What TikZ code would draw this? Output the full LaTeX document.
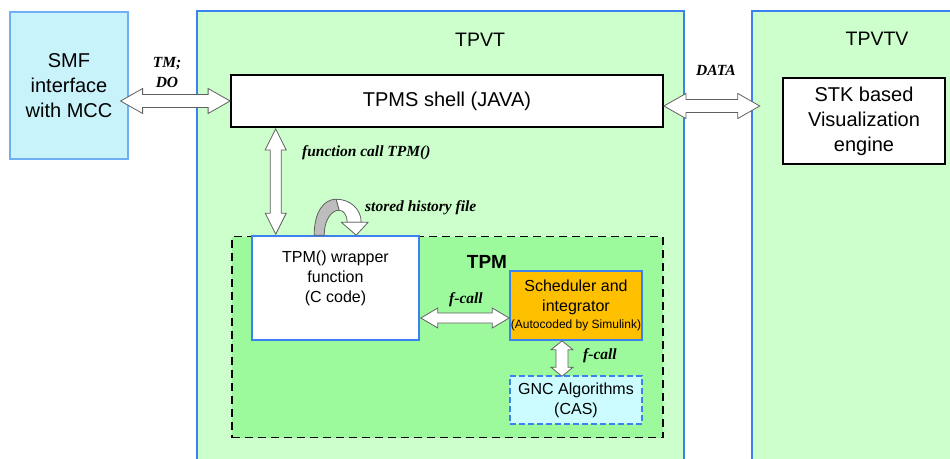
\documentclass[tikz,border=0pt]{standalone}
\usepackage{fontspec}
\setmainfont{Liberation Sans}
\newfontfamily\lblfont{Liberation Serif}
\usetikzlibrary{calc}

\definecolor{paleblue}{HTML}{C9F3FB}
\definecolor{bordblue}{HTML}{3B82F0}
\definecolor{lightblueline}{HTML}{6FB0F5}
\definecolor{lightgreen}{HTML}{CCFFCC}
\definecolor{tpmgreen}{HTML}{9CFA9C}
\definecolor{amber}{HTML}{FFC000}
\definecolor{gnccyan}{HTML}{CCFCFF}
\definecolor{arrowgray}{HTML}{606060}
\definecolor{bandgray}{HTML}{BDBDBD}

% block-arrow geometry: head length, head half-width, shaft half-width
\def\blkhl{22pt}
\def\blkhw{12.5pt}
\def\blksw{6.5pt}

% horizontal double block arrow between a left tip and a right tip
\newcommand\hdbl[2]{%
  \draw[blk] let \p1=#1, \p2=#2 in
    (\x1,\y1) -- (\x1+\blkhl,\y1+\blkhw) -- (\x1+\blkhl,\y1+\blksw)
    -- (\x2-\blkhl,\y1+\blksw) -- (\x2-\blkhl,\y1+\blkhw) -- (\x2,\y1)
    -- (\x2-\blkhl,\y1-\blkhw) -- (\x2-\blkhl,\y1-\blksw)
    -- (\x1+\blkhl,\y1-\blksw) -- (\x1+\blkhl,\y1-\blkhw) -- cycle;}

% vertical double block arrow between a top tip and a bottom tip
\newcommand\vdbl[2]{%
  \draw[blk] let \p1=#1, \p2=#2 in
    (\x1,\y1) -- (\x1+\blkhw,\y1-\blkhl) -- (\x1+\blksw,\y1-\blkhl)
    -- (\x1+\blksw,\y2+\blkhl) -- (\x1+\blkhw,\y2+\blkhl) -- (\x1,\y2)
    -- (\x1-\blkhw,\y2+\blkhl) -- (\x1-\blksw,\y2+\blkhl)
    -- (\x1-\blksw,\y1-\blkhl) -- (\x1-\blkhw,\y1-\blkhl) -- cycle;}

\tikzset{
  box/.style={rectangle, inner sep=0pt, align=center},
  lbl/.style={inner sep=0pt, align=center,
    font={\lblfont\bfseries\itshape\fontsize{15.5}{20}\selectfont}},
  blk/.style={draw=arrowgray, fill=white, line width=0.8pt, line join=miter},
  bigtxt/.style={font={\fontsize{20}{25}\selectfont}},
  midtxt/.style={font={\fontsize{16}{20}\selectfont}},
}

\begin{document}
\begin{tikzpicture}[x=1pt,y=-1pt]
\useasboundingbox (0,0) rectangle (950,458);
\fill[white] (0,0) rectangle (950,458);

% outer blocks
\node[box, fill=paleblue, draw=lightblueline, line width=1.2pt,
  minimum width=118pt, minimum height=147pt, bigtxt] (smf) at (69,85.5)
  {SMF\\interface\\with MCC};

\node[box, fill=lightgreen, minimum width=487pt, minimum height=451pt]
  (tpvt) at (440.5,236.5) {};
\draw[bordblue, line width=1.8pt]
  (tpvt.south west) |- (tpvt.north east) -- (tpvt.south east);
\node[font={\fontsize{19.5}{24}\selectfont}] (tpvttitle) at (480,40) {TPVT};

\node[box, fill=lightgreen, minimum width=205pt, minimum height=451pt]
  (tpvtv) at (854.5,236.5) {};
\draw[bordblue, line width=1.8pt]
  (tpvtv.south west) |- (tpvtv.north east);
\node[font={\fontsize{19.5}{24}\selectfont}] (tpvtvtitle) at (877,39) {TPVTV};

% TPMS shell and visualisation engine
\node[box, fill=white, draw=black, line width=1.8pt,
  minimum width=432pt, minimum height=52pt, bigtxt] (shell) at (447,101)
  {TPMS shell (JAVA)};
\node[box, fill=white, draw=black, line width=1.8pt,
  minimum width=162pt, minimum height=86pt, bigtxt] (stk) at (864,121)
  {STK based\\Visualization\\engine};

% TPM container
\node[box, fill=tpmgreen, draw=black, line width=1.8pt,
  dash pattern=on 8pt off 5pt, minimum width=431pt, minimum height=201pt]
  (tpm) at (447.5,337) {};
\node[font={\bfseries\fontsize{19}{23}\selectfont}] (tpmtitle) at (487,262) {TPM};

\node[box, fill=white, draw=bordblue, line width=1.6pt,
  minimum width=167pt, minimum height=104pt] (wrapper) at (335.5,288) {};
\node[anchor=north, align=center, inner sep=0pt, midtxt] (wrappertxt)
  at ([yshift=-16pt]wrapper.north) {TPM() wrapper\\function\\(C code)};

\node[box, fill=amber, draw=bordblue, line width=1.6pt,
  minimum width=132pt, minimum height=69pt, midtxt] (sched) at (576,305.5)
  {Scheduler and\\integrator\\[-3pt]{\fontsize{12}{14}\selectfont (Autocoded by Simulink)}};

\node[box, fill=gnccyan, draw=bordblue, line width=1.5pt,
  dash pattern=on 6pt off 3pt, minimum width=132pt, minimum height=48pt,
  midtxt] (gnc) at (576,400) {GNC Algorithms\\(CAS)};

% connectors
\hdbl{([xshift=-8pt]smf.east |- shell.west)}{(shell.west)}
\hdbl{([yshift=-5pt]shell.east)}{([xshift=8pt,yshift=-5pt]tpvtv.west |- shell.east)}
\coordinate (fctop) at ($(shell.south -| wrapper.north west)+(24.5,1)$);
\coordinate (fcbot) at ($(wrapper.north west)+(24.5,-1)$);
{\def\blkhl{21pt}\def\blkhw{10.5pt}\def\blksw{5.5pt}
 \vdbl{(fctop)}{(fcbot)}}
{\def\blkhl{17pt}\def\blkhw{10pt}\def\blksw{5pt}
 \hdbl{([xshift=1pt,yshift=-30pt]wrapper.east)}{([yshift=-30pt]wrapper.east -| sched.west)}}
{\def\blkhl{9pt}\def\blkhw{11pt}\def\blksw{6pt}
 \vdbl{($(sched.south)+(-14,0)$)}{($(gnc.north)+(-14,1)$)}}

% curved "stored history file" arrow on top of the wrapper
\coordinate (hist) at ($(wrapper.north west)+(63,0)$);
\begin{scope}[shift={(hist)}, draw=arrowgray, line width=0.8pt, line join=round]
  \filldraw[fill=bandgray] (0,0) .. controls (0,-24) and (10,-36) .. (22,-36)
    -- (25,-25) .. controls (17,-25) and (10,-15) .. (10,0) -- cycle;
  \filldraw[fill=white] (22,-36) .. controls (36,-36) and (47,-26) .. (47,-13)
    -- (33,-13) .. controls (33,-19) and (30,-25) .. (25,-25) -- cycle;
  \filldraw[fill=white] (27,-13) -- (54,-13) -- (42,0) -- cycle;
\end{scope}

% connector labels
\node[lbl] (tmdo) at (167,72) {TM;\\DO};
\node[lbl] (datalbl) at (716,70) {DATA};
\node[lbl, anchor=west] (fclbl) at (302,153) {function call TPM()};
\node[lbl, anchor=west] (histlbl) at (365,208) {stored history file};
\node[lbl] (fcall1) at (466,300) {f-call};
\node[lbl] (fcall2) at (600,356) {f-call};
\end{tikzpicture}
\end{document}
